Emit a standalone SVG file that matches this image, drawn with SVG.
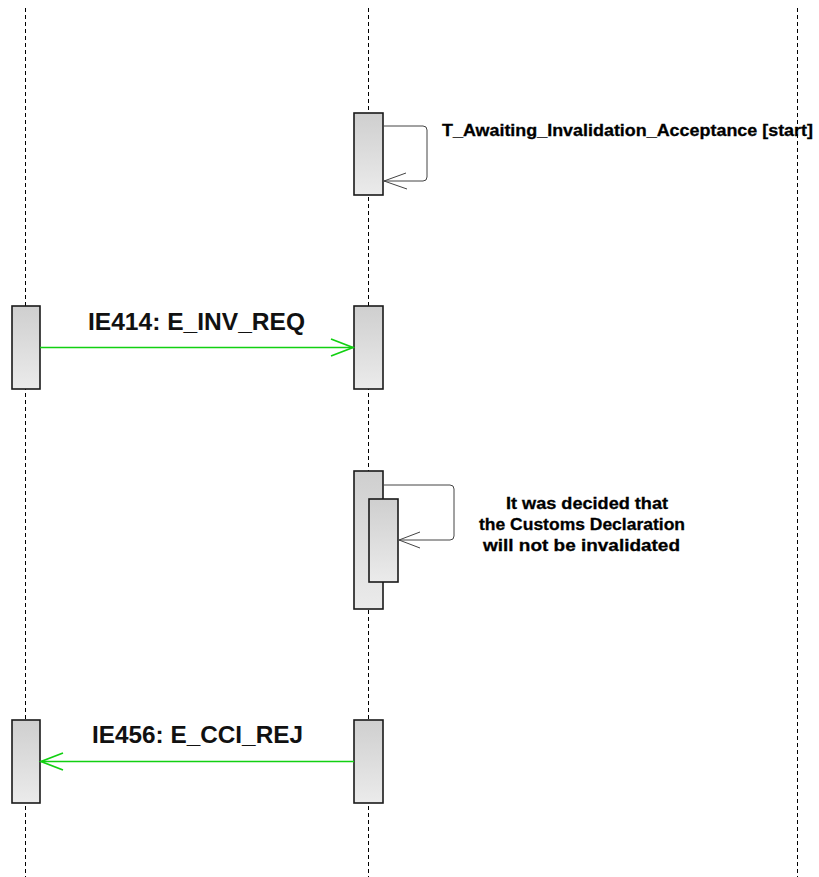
<svg xmlns="http://www.w3.org/2000/svg" width="819" height="877" viewBox="0 0 819 877">
<style>
.life{stroke:#000;stroke-width:1;stroke-dasharray:4,3;fill:none}
.act{fill:url(#g);stroke:#1a1a1a;stroke-width:1.6}
.self{fill:none;stroke:#444;stroke-width:1}
.msg{fill:none;stroke:#11d011;stroke-width:1.7}
.head{fill:none;stroke:#11d011;stroke-width:1.7}
.shead{fill:none;stroke:#444;stroke-width:1}
.big{font-family:"Liberation Sans",Arial,sans-serif;font-size:23px;font-weight:bold;fill:#111}
.small{font-family:"Liberation Sans",Arial,sans-serif;font-size:17px;font-weight:bold;fill:#000;stroke:#000;stroke-width:0.3}
</style>
<defs>
<linearGradient id="g" x1="0" y1="0" x2="0" y2="1">
<stop offset="0" stop-color="#cfcfcf"/>
<stop offset="1" stop-color="#ebebeb"/>
</linearGradient>
</defs>
<rect width="819" height="877" fill="#fff"/>
<g id="lifelines">
<line class="life" x1="25.5" y1="8" x2="25.5" y2="877"/>
<line class="life" x1="368.5" y1="8" x2="368.5" y2="877"/>
<line class="life" x1="797.5" y1="8" x2="797.5" y2="877"/>
</g>
<g id="act-mid-1"><rect class="act" x="354" y="113" width="29" height="82"/></g>
<g id="act-left-1"><rect class="act" x="12" y="306" width="28" height="83"/></g>
<g id="act-mid-2"><rect class="act" x="354" y="306" width="29" height="83"/></g>
<g id="act-mid-3"><rect class="act" x="354" y="471" width="29" height="138"/></g>
<g id="act-mid-3b"><rect class="act" x="369" y="499" width="29" height="83"/></g>
<g id="act-left-2"><rect class="act" x="12" y="720" width="28" height="83"/></g>
<g id="act-mid-4"><rect class="act" x="354" y="720" width="29" height="83"/></g>
<g id="connectors">
<path class="self" d="M383,126 H423 Q427,126 427,130 V177 Q427,181 423,181 H384"/>
<path class="shead" d="M406,173 L384,181 L407,189"/>
<path class="msg" d="M40,347.5 H353"/>
<path class="head" d="M331,339 L353,347.5 L331,356"/>
<path class="self" d="M383,485 H450 Q454,485 454,489 V536 Q454,540 450,540 H399"/>
<path class="shead" d="M420,532 L399,540 L420,548"/>
<path class="msg" d="M354,761.5 H41"/>
<path class="head" d="M63,753 L41,761.5 L63,770"/>
</g>
<g id="labels">
<text class="small" x="442" y="136" textLength="371" lengthAdjust="spacingAndGlyphs">T_Awaiting_Invalidation_Acceptance [start]</text>
<text class="big" x="88" y="329.5" textLength="217" lengthAdjust="spacingAndGlyphs">IE414: E_INV_REQ</text>
<text class="small" x="506" y="509" textLength="162" lengthAdjust="spacingAndGlyphs">It was decided that</text>
<text class="small" x="479" y="530" textLength="206" lengthAdjust="spacingAndGlyphs">the Customs Declaration</text>
<text class="small" x="483" y="551" textLength="197" lengthAdjust="spacingAndGlyphs">will not be invalidated</text>
<text class="big" x="92" y="743" textLength="211" lengthAdjust="spacingAndGlyphs">IE456: E_CCI_REJ</text>
</g>
</svg>
